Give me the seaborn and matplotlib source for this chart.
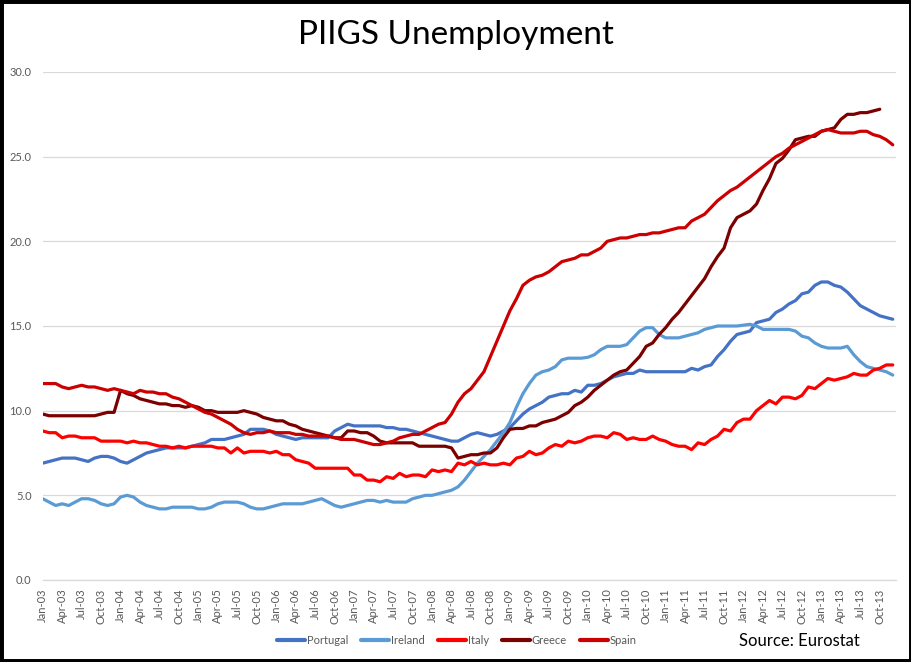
import numpy as np
import pandas as pd
import matplotlib
matplotlib.use("Agg")
import matplotlib.pyplot as plt
from matplotlib.patches import Rectangle
from matplotlib.lines import Line2D
import seaborn as sns

# ---------------- data (monthly, Jan-03 .. Dec-13) ----------------
months = pd.date_range("2003-01-01", "2013-12-01", freq="MS")
month_labels = [d.strftime("%b-%y") for d in months]

portugal = [6.9, 7.0, 7.1, 7.2, 7.2, 7.2, 7.1, 7.0, 7.2, 7.3, 7.3, 7.2,
            7.0, 6.9, 7.1, 7.3, 7.5, 7.6, 7.7, 7.8, 7.8, 7.8, 7.8, 7.9,
            8.0, 8.1, 8.3, 8.3, 8.3, 8.4, 8.5, 8.6, 8.9, 8.9, 8.9, 8.8,
            8.6, 8.5, 8.4, 8.3, 8.4, 8.4, 8.4, 8.4, 8.4, 8.8, 9.0, 9.2,
            9.1, 9.1, 9.1, 9.1, 9.1, 9.0, 9.0, 8.9, 8.9, 8.8, 8.7, 8.6,
            8.5, 8.4, 8.3, 8.2, 8.2, 8.4, 8.6, 8.7, 8.6, 8.5, 8.6, 8.8,
            9.0, 9.4, 9.8, 10.1, 10.3, 10.5, 10.8, 10.9, 11.0, 11.0, 11.2, 11.1,
            11.5, 11.5, 11.6, 11.8, 12.0, 12.1, 12.2, 12.2, 12.4, 12.3, 12.3, 12.3,
            12.3, 12.3, 12.3, 12.3, 12.5, 12.4, 12.6, 12.7, 13.2, 13.6, 14.1, 14.5,
            14.6, 14.7, 15.2, 15.3, 15.4, 15.8, 16.0, 16.3, 16.5, 16.9, 17.0, 17.4,
            17.6, 17.6, 17.4, 17.3, 17.0, 16.6, 16.2, 16.0, 15.8, 15.6, 15.5, 15.4]

ireland = [4.8, 4.6, 4.4, 4.5, 4.4, 4.6, 4.8, 4.8, 4.7, 4.5, 4.4, 4.5,
           4.9, 5.0, 4.9, 4.6, 4.4, 4.3, 4.2, 4.2, 4.3, 4.3, 4.3, 4.3,
           4.2, 4.2, 4.3, 4.5, 4.6, 4.6, 4.6, 4.5, 4.3, 4.2, 4.2, 4.3,
           4.4, 4.5, 4.5, 4.5, 4.5, 4.6, 4.7, 4.8, 4.6, 4.4, 4.3, 4.4,
           4.5, 4.6, 4.7, 4.7, 4.6, 4.7, 4.6, 4.6, 4.6, 4.8, 4.9, 5.0,
           5.0, 5.1, 5.2, 5.3, 5.5, 5.9, 6.4, 6.9, 7.3, 7.7, 8.2, 8.7,
           9.3, 10.2, 11.0, 11.6, 12.1, 12.3, 12.4, 12.6, 13.0, 13.1, 13.1, 13.1,
           13.15, 13.3, 13.6, 13.8, 13.8, 13.8, 13.9, 14.3, 14.7, 14.9, 14.9, 14.5,
           14.3, 14.3, 14.3, 14.4, 14.5, 14.6, 14.8, 14.9, 15.0, 15.0, 15.0, 15.0,
           15.05, 15.1, 15.0, 14.8, 14.8, 14.8, 14.8, 14.8, 14.7, 14.4, 14.3, 14.0,
           13.8, 13.7, 13.7, 13.7, 13.8, 13.3, 12.9, 12.6, 12.5, 12.4, 12.3, 12.1]

italy = [8.8, 8.7, 8.7, 8.4, 8.5, 8.5, 8.4, 8.4, 8.4, 8.2, 8.2, 8.2,
         8.2, 8.1, 8.2, 8.1, 8.1, 8.0, 7.9, 7.9, 7.8, 7.9, 7.8, 7.9,
         7.9, 7.9, 7.9, 7.8, 7.8, 7.5, 7.8, 7.5, 7.6, 7.6, 7.6, 7.5,
         7.6, 7.4, 7.4, 7.1, 7.0, 6.9, 6.6, 6.6, 6.6, 6.6, 6.6, 6.6,
         6.2, 6.2, 5.9, 5.9, 5.8, 6.1, 6.0, 6.3, 6.1, 6.2, 6.2, 6.1,
         6.5, 6.4, 6.5, 6.4, 6.9, 6.8, 7.0, 6.8, 6.9, 6.8, 6.8, 6.9,
         6.8, 7.2, 7.3, 7.6, 7.4, 7.5, 7.8, 8.0, 7.9, 8.2, 8.1, 8.2,
         8.4, 8.5, 8.5, 8.4, 8.7, 8.6, 8.3, 8.4, 8.3, 8.3, 8.5, 8.3,
         8.2, 8.0, 7.9, 7.9, 7.7, 8.1, 8.0, 8.3, 8.5, 8.9, 8.8, 9.3,
         9.5, 9.5, 10.0, 10.3, 10.6, 10.4, 10.8, 10.8, 10.7, 10.9, 11.4, 11.3,
         11.6, 11.9, 11.8, 11.9, 12.0, 12.2, 12.1, 12.1, 12.4, 12.5, 12.7, 12.7]

greece = [9.8, 9.7, 9.7, 9.7, 9.7, 9.7, 9.7, 9.7, 9.7, 9.8, 9.9, 9.9,
          11.2, 11.0, 10.9, 10.7, 10.6, 10.5, 10.4, 10.4, 10.3, 10.3, 10.2, 10.3,
          10.2, 10.0, 10.0, 9.9, 9.9, 9.9, 9.9, 10.0, 9.9, 9.8, 9.6, 9.5,
          9.4, 9.4, 9.2, 9.1, 8.9, 8.8, 8.7, 8.6, 8.5, 8.4, 8.4, 8.8,
          8.8, 8.7, 8.7, 8.5, 8.2, 8.1, 8.1, 8.1, 8.1, 8.1, 7.9, 7.9,
          7.9, 7.9, 7.9, 7.8, 7.2, 7.3, 7.4, 7.4, 7.5, 7.5, 7.8, 8.4,
          8.9, 8.95, 8.95, 9.1, 9.1, 9.3, 9.4, 9.5, 9.7, 9.9, 10.3, 10.5,
          10.8, 11.2, 11.5, 11.8, 12.1, 12.3, 12.4, 12.8, 13.2, 13.8, 14.0, 14.5,
          14.9, 15.4, 15.8, 16.3, 16.8, 17.3, 17.8, 18.5, 19.1, 19.6, 20.8, 21.4,
          21.6, 21.8, 22.2, 23.0, 23.7, 24.6, 24.9, 25.4, 26.0, 26.1, 26.2, 26.2,
          26.5, 26.6, 26.7, 27.2, 27.5, 27.5, 27.6, 27.6, 27.7, 27.8, np.nan, np.nan]

spain = [11.6, 11.6, 11.6, 11.4, 11.3, 11.4, 11.5, 11.4, 11.4, 11.3, 11.2, 11.3,
         11.2, 11.1, 11.0, 11.2, 11.1, 11.1, 11.0, 11.0, 10.8, 10.7, 10.5, 10.3,
         10.1, 9.9, 9.8, 9.6, 9.4, 9.2, 8.9, 8.7, 8.6, 8.7, 8.7, 8.8,
         8.7, 8.7, 8.7, 8.6, 8.6, 8.5, 8.5, 8.5, 8.5, 8.4, 8.3, 8.3,
         8.3, 8.2, 8.1, 8.0, 8.0, 8.1, 8.2, 8.4, 8.5, 8.6, 8.6, 8.8,
         9.0, 9.2, 9.3, 9.8, 10.5, 11.0, 11.3, 11.8, 12.3, 13.2, 14.1, 15.0,
         15.9, 16.6, 17.4, 17.7, 17.9, 18.0, 18.2, 18.5, 18.8, 18.9, 19.0, 19.2,
         19.2, 19.4, 19.6, 20.0, 20.1, 20.2, 20.2, 20.3, 20.4, 20.4, 20.5, 20.5,
         20.6, 20.7, 20.8, 20.8, 21.2, 21.4, 21.6, 22.0, 22.4, 22.7, 23.0, 23.2,
         23.5, 23.8, 24.1, 24.4, 24.7, 25.0, 25.2, 25.5, 25.7, 25.9, 26.1, 26.3,
         26.5, 26.6, 26.5, 26.4, 26.4, 26.4, 26.5, 26.5, 26.3, 26.2, 26.0, 25.7]

countries = ["Portugal", "Ireland", "Italy", "Greece", "Spain"]
colors = ["#4472C4", "#5B9BD5", "#FF0000", "#7B0000", "#CC0000"]
y_ticks = [0, 5, 10, 15, 20, 25, 30]

# ---------------- build table ----------------
series = dict(zip(countries, [portugal, ireland, italy, greece, spain]))
rows = []
for c, vals in series.items():
    for i, v in enumerate(vals):
        rows.append({"idx": i, "month": month_labels[i], "country": c, "value": v})
df = pd.DataFrame(rows)

# ---------------- plot ----------------
sns.set_theme(style="white")
plt.rcParams["font.family"] = ["Lato", "DejaVu Sans"]

fig = plt.figure(figsize=(9.12, 6.62), dpi=100)
W, H = 912, 662
ax_left_px, ax_right_px = 42.7, 896
ax_top_px, ax_bot_px = 72, 580
ax = fig.add_axes([ax_left_px / W, 1 - ax_bot_px / H,
                   (ax_right_px - ax_left_px) / W, (ax_bot_px - ax_top_px) / H])

palette = dict(zip(countries, colors))
sns.lineplot(data=df, x="idx", y="value", hue="country", hue_order=countries,
             palette=palette, linewidth=2.3, ax=ax, legend=False)

ax.set_xlim(0, 131.5)
ax.set_ylim(0, 30)
ax.set_yticks(y_ticks)
ax.set_yticklabels([f"{v:.1f}" for v in y_ticks], fontsize=8, color="#595959")
xt = list(range(0, 132, 3))
ax.set_xticks(xt)
ax.set_xticklabels([month_labels[i] for i in xt], rotation=90, fontsize=8,
                   color="#595959")
ax.set_xlabel("")
ax.set_ylabel("")
ax.grid(axis="y", color="#D9D9D9", linewidth=0.9)
ax.set_axisbelow(True)
for s in ["top", "right", "left"]:
    ax.spines[s].set_visible(False)
ax.spines["bottom"].set_color("#D9D9D9")
ax.spines["bottom"].set_linewidth(0.9)
ax.tick_params(axis="x", which="major", length=4, width=0.9, color="#D9D9D9",
               direction="out", pad=2)
ax.tick_params(axis="y", length=0, pad=8)

# title
fig.text(0.5, 1 - 35 / H, "PIIGS Unemployment", ha="center", va="center",
         fontsize=24, color="black")

# legend
handles = [Line2D([0], [0], color=c, lw=3) for c in colors]
leg = fig.legend(handles, countries, loc="center", bbox_to_anchor=(457 / W, 1 - 640 / H),
                 ncol=5, frameon=False, fontsize=8, handlelength=2.5,
                 handletextpad=0.2, columnspacing=1.15)
for t in leg.get_texts():
    t.set_color("#595959")

fig.text(799.5 / W, 1 - 641 / H, "Source: Eurostat", ha="center", va="center",
         fontsize=12, color="black")

# border
fig.patches.append(Rectangle((0, 0), 1, 1, transform=fig.transFigure,
                             fill=False, edgecolor="black", linewidth=5))

fig.savefig("out.png", dpi=100, facecolor="white")
